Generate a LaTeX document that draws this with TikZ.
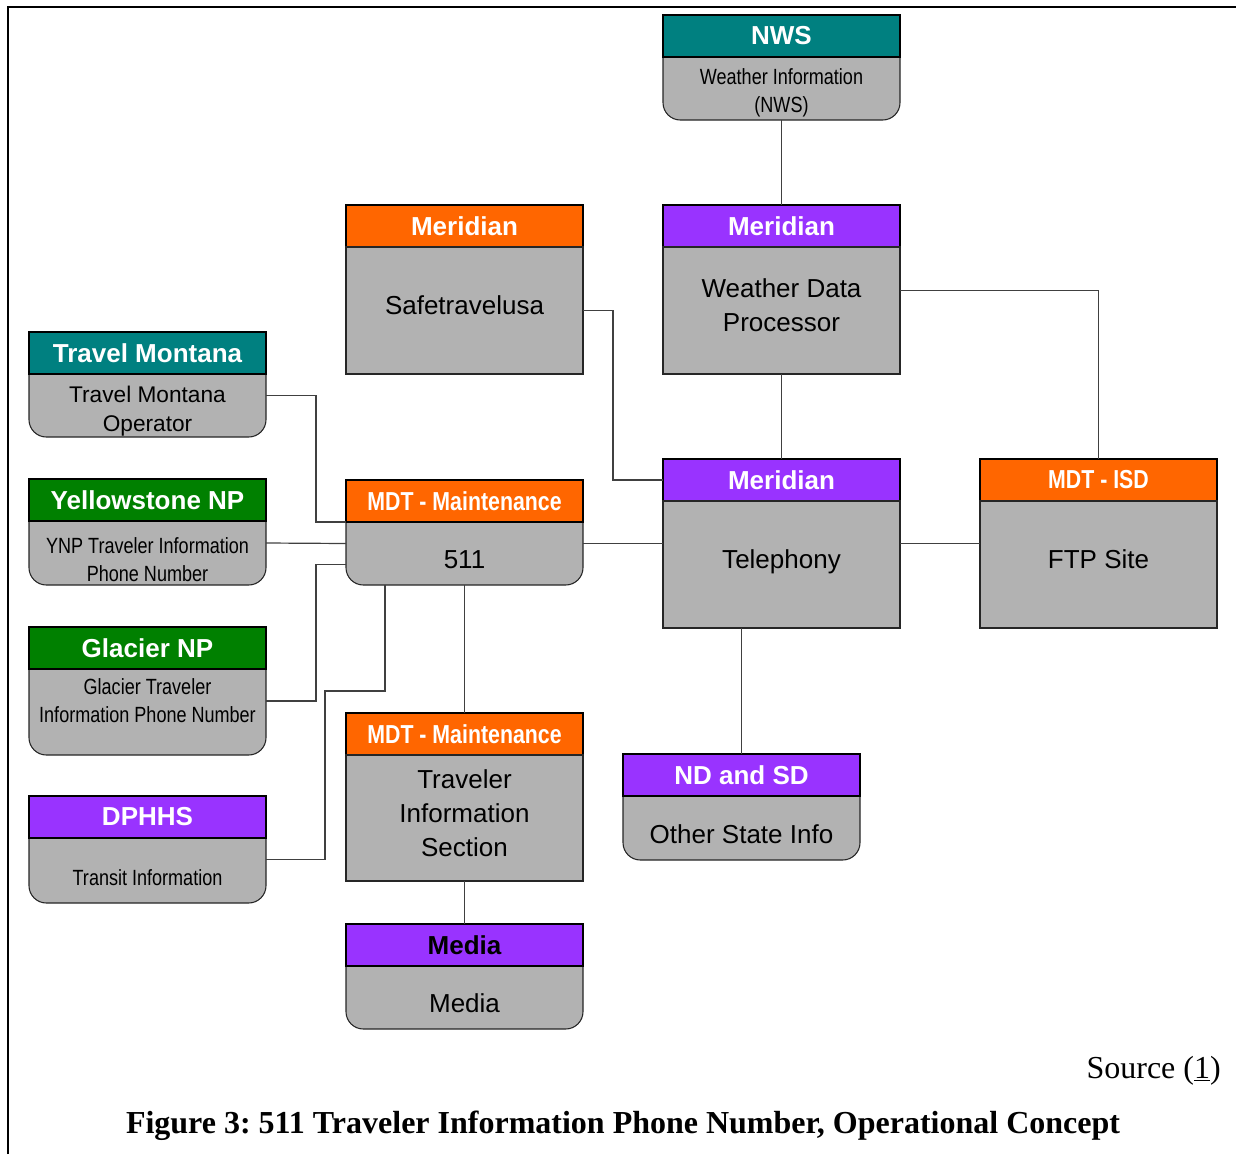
\documentclass[tikz,border=0pt]{standalone}
\usepackage{fontspec}
\newfontfamily\arialf{Liberation Sans}
\newfontfamily\narrowf[FakeStretch=0.82]{Liberation Sans}
\newfontfamily\timesf{Liberation Serif}
\usetikzlibrary{positioning, backgrounds}

\definecolor{nwsteal}{RGB}{0,128,128}
\definecolor{mdtorange}{RGB}{255,102,0}
\definecolor{merpurple}{RGB}{153,51,255}
\definecolor{parkgreen}{RGB}{0,128,0}
\definecolor{boxgray}{RGB}{178,178,178}

\tikzset{
  hd/.style={draw=black, line width=0.9pt, minimum width=177.75pt, minimum height=31.5pt,
    inner sep=0pt, outer sep=0pt, anchor=north, text=white,
    font=\arialf\bfseries\fontsize{19.5}{23}\selectfont},
  hdn/.style={hd, font=\narrowf\bfseries\fontsize{19.5}{23}\selectfont},
  bx/.style={draw=black!85, line width=0.8pt, fill=boxgray, minimum width=177.75pt,
    inner sep=0pt, outer sep=0pt},
  bxr/.style={bx, draw=none, fill=none},
  roundbody/.style={draw=black!85, line width=0.8pt, fill=boxgray, rounded corners=13pt},
  bt/.style={align=center, inner sep=0pt, font=\arialf\fontsize{19.5}{25.5}\selectfont},
  small/.style={bt, font=\arialf\fontsize{17}{21.75}\selectfont},
  narrow/.style={bt, font=\narrowf\fontsize{16.5}{21}\selectfont},
  link/.style={draw=black!75, line width=0.9pt}
}

\begin{document}
\frenchspacing
\begin{tikzpicture}[x=0.75pt, y=-0.75pt]
\useasboundingbox (0,0) rectangle (1236,1154);

% page frame
\draw[line width=1.5pt] (8,1154) -- (8,7) -- (1236,7);

% right side: Meridian and NWS
\node[hd, fill=nwsteal] (nwsH) at (781.5,15) {NWS};
\node[bxr, minimum height=47.25pt, below=0pt of nwsH,
  label={[narrow, yshift=-3pt]center:{Weather Information\\(NWS)}}] (nwsB) {};
\node[hd, fill=merpurple] (wdpH) at (781.5,205) {Meridian};
\node[bx, minimum height=95.25pt, below=0pt of wdpH,
  label={[bt, yshift=3.75pt]center:{Weather Data\\Processor}}] (wdpB) {};
\node[hd, fill=mdtorange] (safeH) at (464.5,205) {Meridian};
\node[bx, minimum height=95.25pt, below=0pt of safeH,
  label={[bt, yshift=3.75pt]center:Safetravelusa}] (safeB) {};
\node[hd, fill=merpurple] (telH) at (781.5,459) {Meridian};
\node[bx, minimum height=95.25pt, below=0pt of telH,
  label={[bt, yshift=2.25pt]center:Telephony}] (telB) {};
\node[hdn, fill=mdtorange] (ftpH) at (1098.5,459) {MDT - ISD};
\node[bx, minimum height=95.25pt, below=0pt of ftpH,
  label={[bt, yshift=3.75pt]center:FTP Site}] (ftpB) {};
\node[hd, fill=merpurple] (ndsdH) at (741.5,754) {ND and SD};
\node[bxr, minimum height=48pt, below=0pt of ndsdH,
  label={[bt, yshift=-4.5pt]center:Other State Info}] (ndsdB) {};

% middle column: MDT maintenance
\node[hdn, fill=mdtorange] (mntH) at (464.5,480) {MDT - Maintenance};
\node[bxr, minimum height=47.25pt, below=0pt of mntH,
  label={[bt, yshift=-4.5pt]center:511}] (mntB) {};
\node[hdn, fill=mdtorange] (tisH) at (464.5,713) {MDT - Maintenance};
\node[bx, minimum height=94.5pt, below=0pt of tisH,
  label={[bt, yshift=3.75pt]center:{Traveler\\Information\\Section}}] (tisB) {};
\node[hd, fill=merpurple, text=black] (medH) at (464.5,924) {Media};
\node[bxr, minimum height=47.25pt, below=0pt of medH,
  label={[bt, yshift=-4.5pt]center:Media}] (medB) {};

% left column
\node[hd, fill=nwsteal] (tmH) at (147.5,332) {Travel Montana};
\node[bxr, minimum height=47.25pt, below=0pt of tmH,
  label={[small, yshift=-4.5pt]center:{Travel Montana\\Operator}}] (tmB) {};
\node[hd, fill=parkgreen] (ynpH) at (147.5,479) {Yellowstone NP};
\node[bxr, minimum height=48pt, below=0pt of ynpH,
  label={[narrow, yshift=-5.25pt]center:{YNP Traveler Information\\Phone Number}}] (ynpB) {};
\node[hd, fill=parkgreen] (glacH) at (147.5,627) {Glacier NP};
\node[bxr, minimum height=64.5pt, below=0pt of glacH,
  label={[narrow, yshift=8.25pt]center:{Glacier Traveler\\Information Phone Number}}] (glacB) {};
\node[hd, fill=merpurple] (dphH) at (147.5,796) {DPHHS};
\node[bxr, minimum height=48.75pt, below=0pt of dphH,
  label={[narrow, yshift=-5.25pt]center:Transit Information}] (dphB) {};

% rounded bodies behind the headers
\begin{scope}[on background layer]
\foreach \nm in {nws,ndsd,mnt,med,tm,ynp,glac,dph}
  \path[roundbody] (\nm H.north west) -- (\nm B.south west) -- (\nm B.south east) -- (\nm H.north east) -- cycle;
\end{scope}

% connectors
\draw[link] (nwsB.south) -- (wdpH.north);
\draw[link] (wdpB.south) -- (telH.north);
\draw[link] ([yshift=15pt]wdpB.east) -| (ftpH.north);
\draw[link] (safeB.east) -- ++(30,0) |- (telH.west);
\draw[link] ([yshift=16pt]telB.east) -- ([yshift=16pt]ftpB.west);
\draw[link] (ndsdH.north) -- (ndsdH.north |- telB.south);
\draw[link] ([yshift=7.5pt]mntB.east) -- ([yshift=7.5pt]mntB.east -| telB.west);
\draw[link] (mntB.south) -- (tisH.north);
\draw[link] (tisB.south) -- (medH.north);
\draw[link] ([yshift=7.5pt]tmB.east) -- ++(50,0) |- (mntH.south west);
\draw[link] ([yshift=7.5pt]ynpB.east) -- ([yshift=7.5pt]mntB.west);
\draw[link] ([yshift=8.25pt]glacB.east) -- ++(50,0) |- ([yshift=-8.5pt]mntB.west);
\draw[link] ([xshift=-59.6pt]mntB.south) -- ++(0,106) -- ++(-60,0) |- ([yshift=8pt]dphB.east);

% caption
\node[anchor=base east, inner sep=0pt, font=\timesf\fontsize{24}{28}\selectfont] (src) at (1221,1078) {Source (\underline{1})};
\node[anchor=base, inner sep=0pt, font=\timesf\bfseries\fontsize{24}{28}\selectfont] (cap) at (623,1133)
  {Figure 3: 511 Traveler Information Phone Number, Operational Concept};
\end{tikzpicture}
\end{document}
